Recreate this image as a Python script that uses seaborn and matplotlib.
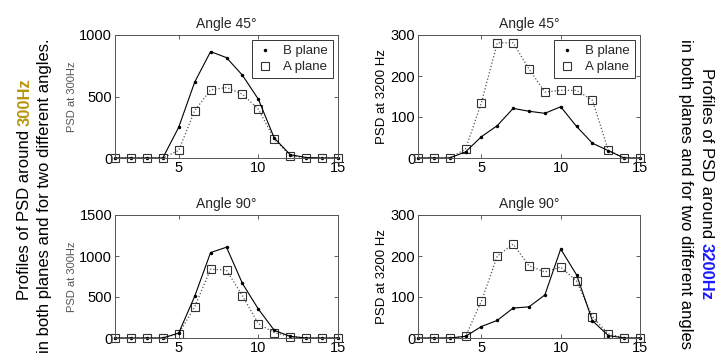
import numpy as np
import pandas as pd
import matplotlib
matplotlib.use("Agg")
import matplotlib.pyplot as plt
from matplotlib.lines import Line2D
import seaborn as sns

# ---------------- data ----------------
positions = list(range(1, 16))

b_300_45 = [0, 0, 0, 0, 250, 616, 865, 816, 673, 478, 162, 27, 4, 0, 0]
a_300_45 = [0, 0, 0, 0, 62, 384, 554, 573, 519, 397, 154, 19, 0, 0, 0]

b_3200_45 = [0, 0, 0, 15, 52, 79, 121, 114, 109, 125, 77, 36, 18, 0, 0]
a_3200_45 = [0, 0, 0, 22, 135, 281, 281, 217, 161, 165, 165, 141, 19, 0, 0]

b_300_90 = [0, 0, 0, 0, 61, 507, 1042, 1107, 665, 353, 93, 20, 0, 0, 0]
a_300_90 = [0, 0, 0, 0, 53, 377, 839, 827, 515, 174, 65, 16, 0, 0, 0]

b_3200_90 = [0, 0, 0, 4, 28, 43, 73, 76, 105, 217, 154, 42, 6, 0, 0]
a_3200_90 = [0, 0, 0, 4, 90, 200, 229, 176, 161, 173, 139, 52, 10, 0, 0]

titles = ["Angle 45°", "Angle 45°", "Angle 90°", "Angle 90°"]
ylabels = ["PSD at 300Hz", "PSD at 3200 Hz", "PSD at 300Hz", "PSD at 3200 Hz"]
ylims = [1000, 300, 1500, 300]
yticks = [[0, 500, 1000], [0, 100, 200, 300], [0, 500, 1000, 1500], [0, 100, 200, 300]]
xticks = [5, 10, 15]
legend_labels = ["B plane", "A plane"]

left_line1 = "Profiles of PSD around"
left_hl = "300Hz"
left_line2 = "in both planes and for two different angles."
right_line1 = "Profiles of PSD around"
right_hl = "3200Hz"
right_line2 = "in both planes and for two different angles"

# ---------------- style ----------------
sns.set_theme(style="white")
plt.rcParams["font.family"] = ["Liberation Sans", "DejaVu Sans"]

W, H = 716, 360
fig = plt.figure(figsize=(W / 100, H / 100), dpi=100)

# axes rects in pixels: left, top, right, bottom
rects_px = [(115, 35, 338, 158), (418, 35, 640, 158),
            (115, 215, 338, 338), (418, 215, 640, 338)]
panels = [(b_300_45, a_300_45), (b_3200_45, a_3200_45),
          (b_300_90, a_300_90), (b_3200_90, a_3200_90)]

spine_col = "#555555"
for i, ((l, t, r, b), (bvals, avals)) in enumerate(zip(rects_px, panels)):
    ax = fig.add_axes([l / W, 1 - b / H, (r - l) / W, (b - t) / H])
    df = pd.DataFrame({"x": positions, "B": bvals, "A": avals})
    sns.lineplot(data=df, x="x", y="A", ax=ax, color="#555555", linestyle=":",
                 lw=0.9, marker="s", markersize=5.5, markerfacecolor="none",
                 markeredgecolor="#333333", markeredgewidth=0.8, clip_on=False)
    sns.lineplot(data=df, x="x", y="B", ax=ax, color="black", linestyle="-",
                 lw=0.8, marker=".", markersize=5, markeredgewidth=0,
                 clip_on=False)
    ax.set_xlim(1, 15)
    ax.set_ylim(0, ylims[i])
    ax.set_xticks(xticks)
    ax.set_yticks(yticks[i])
    ax.tick_params(direction="in", length=3, width=0.6, color="#444444",
                   top=True, right=True, bottom=True, left=True,
                   labelsize=10.5, pad=2, labelcolor="black")
    for s in ax.spines.values():
        s.set_visible(True)
        s.set_color(spine_col)
        s.set_linewidth(0.7)
    ax.set_xlabel("")
    ax.set_title(titles[i], fontsize=10, pad=5)
    if i % 2 == 0:
        ax.set_ylabel(ylabels[i], fontsize=8, color="#555555")
        ax.yaxis.set_label_coords(-0.17, 0.5)
    else:
        ax.set_ylabel(ylabels[i], fontsize=9.5, color="black")
        ax.yaxis.set_label_coords(-0.135, 0.5)
    if i < 2:
        handles = [Line2D([], [], color="black", marker=".", markersize=5,
                          markeredgewidth=0, linestyle="none"),
                   Line2D([], [], color="#333333", marker="s", markersize=5.5,
                          markerfacecolor="none", markeredgewidth=0.8,
                          linestyle="none")]
        leg = ax.legend(handles, legend_labels, loc="upper right", fontsize=9.5,
                        frameon=True, fancybox=False, borderaxespad=0.4,
                        handlelength=1.2, handletextpad=0.8, borderpad=0.35,
                        labelspacing=0.3)
        leg.get_frame().set_edgecolor("black")
        leg.get_frame().set_linewidth(0.7)

# ---------------- side texts with highlighted words ----------------
fig.canvas.draw()
renderer = fig.canvas.get_renderer()


def px2fig(x, y):
    return x / W, 1 - y / H


def rotated_two_part(x_px, yc_px, part1, part2, color2, rot, fs=12):
    gap = 4
    t1 = fig.text(0, 0, part1, rotation=rot, ha="center", va="center",
                  fontsize=fs, color="black")
    t2 = fig.text(0, 0, part2, rotation=rot, ha="center", va="center",
                  fontsize=fs, color=color2, fontweight="bold")
    h1 = t1.get_window_extent(renderer).height
    h2 = t2.get_window_extent(renderer).height
    total = h1 + gap + h2
    if rot == 90:
        start = yc_px + total / 2
        c1 = start - h1 / 2
        c2 = start - h1 - gap - h2 / 2
    else:
        start = yc_px - total / 2
        c1 = start + h1 / 2
        c2 = start + h1 + gap + h2 / 2
    t1.set_position(px2fig(x_px, c1))
    t2.set_position(px2fig(x_px, c2))


rotated_two_part(25, 189, left_line1, left_hl, "#b8960c", 90)
fig.text(*px2fig(45, 196), left_line2, rotation=90, ha="center", va="center",
         fontsize=12, color="black")
rotated_two_part(706, 184, right_line1, right_hl, "#1a1aff", 270)
fig.text(*px2fig(686, 194), right_line2, rotation=270, ha="center", va="center",
         fontsize=12, color="black")

fig.savefig("out.png", dpi=100)
